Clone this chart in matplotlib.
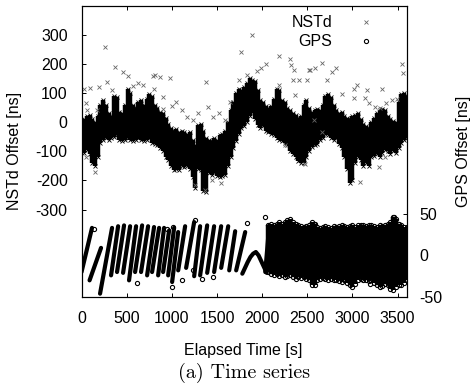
"""
NSTd / GPS offset time series (two y axes).
Values read off the reference picture.
"""

import numpy as np
import matplotlib
matplotlib.use("Agg")
import matplotlib.pyplot as plt
from matplotlib.lines import Line2D

plt.rcParams['font.family'] = ['Liberation Sans', 'DejaVu Sans']
plt.rcParams['axes.unicode_minus'] = False

STEP = 30  # [s] between band readings

# NSTd offset: upper / lower edge of the dense cloud [ns], every STEP s from 0 s
nstd_hi = [5, 10, 20, 25, 10, 0, 20, 60, 75, 60, 30, 20, 90, 85, 35, 30, 60, 115, 100, 60,
           50, 70, 75, 60, 80, 95, 90, 60, 50, 35, 30, 15, -5, -20, -30, -25, -35, -30, -35, -40,
           -35, -60, -80, -10, -5, -30, -55, -60, -65, -55, -60, -45, -40, -30, 0, 40, 70, 100, 115, 110,
           120, 135, 150, 145, 140, 110, 75, 70, 55, 50, 55, 80, 115, 110, 75, 70, 50, 40, 30, 25,
           15, 20, 60, 75, 50, 35, 40, 45, 40, 60, 90, 95, 85, 60, 40, 30, 35, 20, 15, 10,
           20, 25, 30, 10, -5, -15, -20, 0, 15, 30, 40, 45, 40, 20, 10, 5, 0, 70, 95, 100, 90]
nstd_lo = [-100, -105, -95, -110, -140, -150, -120, -70, -60, -55, -60, -55, -50, -45, -60, -65, -60, -55, -60, -65,
           -60, -55, -60, -65, -60, -55, -70, -75, -80, -90, -100, -120, -130, -150, -165, -160, -165, -150, -155, -150,
           -160, -190, -225, -160, -165, -235, -240, -175, -180, -170, -185, -190, -185, -180, -150, -120, -90, -65, -40, -20,
           -15, 0, 20, 35, 10, -10, -20, -15, -30, -35, -40, -45, -55, -60, -65, -70, -80, -100, -110, -120,
           -135, -140, -140, -120, -100, -85, -80, -75, -60, -55, -40, -45, -55, -60, -55, -75, -90, -120, -160, -210,
           -200, -140, -120, -130, -150, -140, -150, -120, -115, -110, -120, -105, -95, -100, -110, -100, -105, -90, -70, -60, -55]

# isolated NSTd points outside the cloud
nstd_out_t = [28, 50, 50, 64, 94, 150, 168, 197, 260, 279, 335, 371, 456, 513, 574, 630, 685, 796, 804, 815,
              870, 907, 907, 981, 1000, 1047, 1110, 1166, 1239, 1258, 1288, 1369, 1380, 1405, 1443, 1461, 1527, 1543, 1590, 1646,
              1738, 1764, 1831, 1886, 1941, 1989, 2045, 2181, 2181, 2255, 2303, 2322, 2340, 2355, 2366, 2403, 2477, 2496, 2514, 2532,
              2569, 2588, 2662, 2662, 2717, 2773, 2821, 2884, 3012, 3012, 3050, 3087, 3142, 3161, 3179, 3253, 3297, 3308, 3327, 3364,
              3375, 3438, 3493, 3549, 3556]
nstd_out_v = [112, 65, -119, 41, 118, -172, 41, 121, 258, 138, 110, 190, 172, 158, 123, 133, 127, 158, 112, 161,
              155, 87, 44, 153, 55, 70, 41, 18, 7, -216, 32, -233, 136, 52, -199, 18, 32, -210, 7, 70,
              144, 241, 161, 298, 175, 184, 201, 226, 127, -79, 218, 195, 144, 178, 93, 144, -142, 144, 178, 178,
              7, 184, 203, -33, 144, 172, 184, 98, 115, 81, 127, -205, 81, 110, 64, 52, -153, 50, 115, -119,
              66, 75, 78, 201, 169]

# GPS sawtooth stripes: start / end time [s] and offset [ns]
gps_t0 = [0, 89, 205, 327, 393, 460, 526, 593, 659, 726, 781, 848, 903, 959, 1003, 1070, 1158, 1247, 1313, 1391,
          1468, 1546, 1635, 1712, 2034]
gps_g0 = [-20, -30, -46, -24, -20, -21, -30, -20, -20, -24, -20, -24, -20, -24, -32, -18, -15, -25, -24, -21,
          -20, -15, -18, -18, -20]
gps_t1 = [116, 216, 338, 405, 471, 538, 604, 671, 737, 803, 859, 914, 970, 1025, 1070, 1147, 1247, 1313, 1391, 1468,
          1546, 1624, 1701, 1812, 2078]
gps_g1 = [33, 9, 33, 35, 36, 35, 35, 36, 35, 34, 33, 33, 30, 33, 28, 35, 40, 35, 36, 35,
          35, 35, 29, 28, 36]

# slow hump around 1900 s
gps_hump_t = [1780, 1810, 1840, 1870, 1900, 1930, 1960, 1990, 2020, 2050]
gps_hump_g = [-22, -15, -8, -2, 2, 4, 0, -7, -14, -21]

# dense GPS part: upper / lower edge every STEP s from 2070 s
GPS_DENSE_START = 2070
gps_hi = [36, 38, 36, 38, 40, 38, 40, 42, 44, 40, 38, 36, 35, 34, 35, 36, 40, 38, 34, 33,
          34, 35, 34, 33, 35, 34, 35, 36, 35, 34, 35, 36, 34, 36, 37, 36, 35, 36, 37, 35,
          34, 36, 35, 36, 38, 40, 46, 44, 38, 36, 34, 32]
gps_lo = [-20, -22, -24, -22, -25, -24, -26, -25, -24, -26, -28, -26, -27, -26, -28, -30, -35, -36, -30, -28,
          -27, -28, -30, -28, -30, -29, -31, -32, -30, -33, -36, -38, -34, -30, -28, -30, -29, -31, -30, -33,
          -36, -38, -37, -34, -36, -40, -42, -38, -36, -35, -33, -30]

# isolated GPS points
gps_out_t = [142, 612, 944, 1018, 1000, 1110, 1239, 1332, 1461, 1258, 1831, 2026, 2569, 3456, 3197, 3600]
gps_out_g = [32, -33, 32, 34, -38, -30, -18, -28, -26, 42, 39, 46, 38, 46, -34, 34]

FS = 11.5

fig = plt.figure(figsize=(4.74, 3.88), dpi=100)
ax = fig.add_axes([0.172, 0.2345, 0.686, 0.7513])
ax2 = ax.twinx()

# NSTd
t_nstd = np.arange(len(nstd_hi)) * STEP
ax.vlines(t_nstd, nstd_lo, nstd_hi, color='black', lw=3.2)
ax.plot(t_nstd, nstd_hi, 'x', color='black', ms=3.5, mew=0.6)
ax.plot(t_nstd, nstd_lo, 'x', color='black', ms=3.5, mew=0.6)
ax.plot(nstd_out_t, nstd_out_v, 'x', color='#666666', ms=3.5, mew=0.6)

# GPS
for t0, g0, t1, g1 in zip(gps_t0, gps_g0, gps_t1, gps_g1):
    ax2.plot([t0, t1], [g0, g1], color='black', lw=3.0, solid_capstyle='round')
ax2.plot(gps_hump_t, gps_hump_g, color='black', lw=3.0, solid_capstyle='round')
t_gps = GPS_DENSE_START + np.arange(len(gps_hi)) * STEP
ax2.vlines(t_gps, gps_lo, gps_hi, color='black', lw=3.2)
ax2.plot(t_gps, gps_hi, 'o', mfc='none', mec='black', ms=3, mew=0.8)
ax2.plot(t_gps, gps_lo, 'o', mfc='none', mec='black', ms=3, mew=0.8)
ax2.plot(gps_out_t, gps_out_g, 'o', mfc='none', mec='black', ms=3, mew=0.8)

# axes
ax.set_xlim(0, 3600)
ax.set_ylim(-600, 400)
ax2.set_ylim(-50, 300)
ax.set_xticks(range(0, 3501, 500))
ax.set_yticks(range(-300, 301, 100))
ax2.set_yticks([-50, 0, 50])

for a in (ax, ax2):
    for s in a.spines.values():
        s.set_linewidth(0.8)
ax.tick_params(axis='x', direction='in', top=True, length=3, width=0.7, pad=10, labelsize=FS)
ax.tick_params(axis='y', direction='in', right=False, length=3, width=0.7, pad=10, labelsize=FS)
ax2.tick_params(axis='y', direction='in', left=False, length=3, width=0.7, pad=9, labelsize=FS)

ax.set_xlabel('Elapsed Time [s]', fontsize=FS, va='center')
ax.xaxis.set_label_coords(0.497, -0.182)
ax.set_ylabel('NSTd Offset [ns]', fontsize=FS, va='center')
ax.yaxis.set_label_coords(-0.207, 0.5)
ax2.set_ylabel('GPS Offset [ns]', fontsize=FS, va='center', rotation=90)
ax2.yaxis.set_label_coords(1.176, 0.5)

handles = [Line2D([], [], ls='none', marker='x', color='#666666', ms=3.5, mew=0.6),
           Line2D([], [], ls='none', marker='o', mfc='none', mec='black', ms=3, mew=0.8)]
ax2.legend(handles, ['NSTd', 'GPS'], loc='upper right', bbox_to_anchor=(0.8995, 0.967),
           borderaxespad=0, borderpad=0, frameon=False, markerfirst=False,
           handlelength=1.0, handletextpad=1.6, labelspacing=0.25, fontsize=FS)

fig.text(244 / 474, 1 - 373 / 388, '(a) Time series', ha='center', va='center',
         family='cmr10', fontsize=14.5)

fig.savefig('out.png', dpi=100)
